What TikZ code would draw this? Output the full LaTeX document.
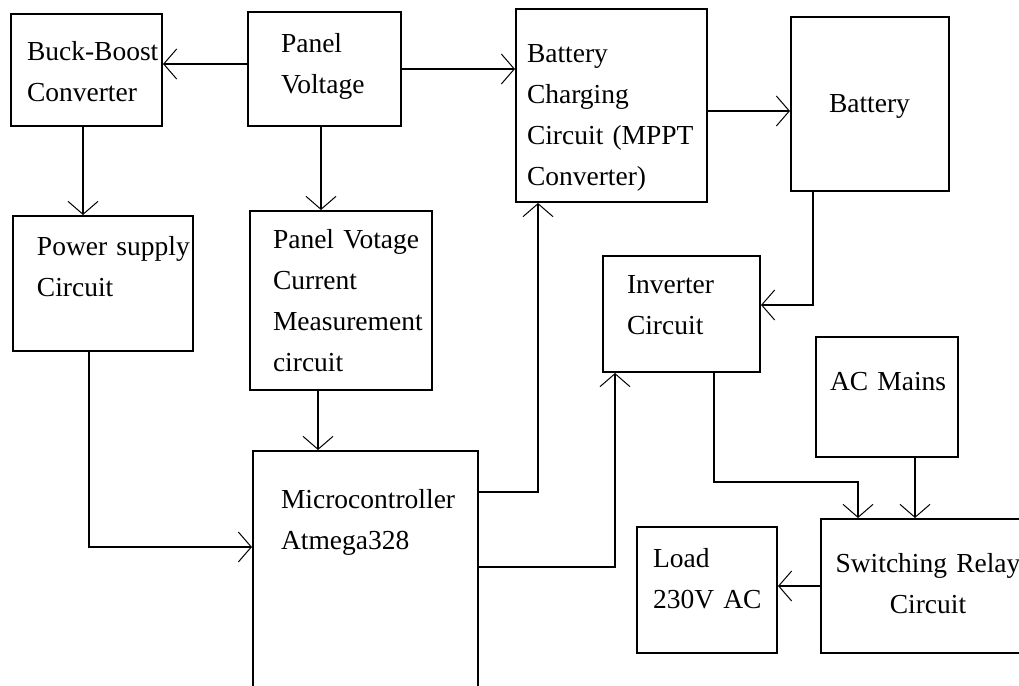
\documentclass[tikz,border=0pt]{standalone}
\usepackage{fontspec}
\setmainfont[WordSpace=0.75]{Liberation Serif}
\usetikzlibrary{arrows.meta}

\begin{document}
\begin{tikzpicture}[
    x=0.5pt, y=-0.5pt,
    >={Straight Barb[length=6.5pt,width=15pt,line width=0.5pt]},
    line width=1pt,
    blk/.style={draw, rectangle, inner sep=0pt, align=left,
        font=\fontsize{13.75}{20.5}\selectfont, text height=0pt}
]
    \path[use as bounding box, clip] (0,0) rectangle (1019,686);

    \node[blk, minimum width=75.5pt, minimum height=56pt, text width=59.5pt, text depth=10pt] (BB) at (86.5,70) {\mbox{Buck-Boost}\\Converter};
    \node[blk, minimum width=76.5pt, minimum height=57pt, text width=43.5pt, text depth=17pt] (PV) at (324.5,69) {Panel\\Voltage};
    \node[blk, minimum width=95.5pt, minimum height=96.5pt, text width=84.5pt, text depth=43.5pt] (CH) at (611.5,105.5) {Battery\\Charging\\\mbox{Circuit (MPPT}\\Converter)};
    \node[blk, minimum width=79pt, minimum height=87pt, text width=41pt, text height=8pt, text depth=0pt] (BT) at (870,104) {Battery};
    \node[blk, minimum width=90pt, minimum height=67.5pt, text width=66pt, text depth=28.5pt] (PS) at (103,283.5) {\mbox{Power supply}\\Circuit};
    \node[blk, minimum width=91pt, minimum height=89.5pt, text width=68pt, text depth=52.5pt] (MS) at (341,300.5) {\mbox{Panel Votage}\\Current\\\mbox{Measurement}\\circuit};
    \node[blk, minimum width=78.5pt, minimum height=58pt, text width=54.5pt, text depth=21pt] (INV) at (681.5,314) {Inverter\\Circuit};
    \node[blk, minimum width=112.5pt, minimum height=124.5pt, text width=84.5pt, text depth=67.5pt] (MCU) at (365.5,575.5) {\mbox{Microcontroller}\\Atmega328};
    \node[blk, minimum width=71pt, minimum height=60pt, text width=57pt, text depth=7pt] (AC) at (887,397) {\mbox{AC Mains}};
    \node[blk, minimum width=70pt, minimum height=63pt, text width=54pt, text depth=23pt] (LD) at (707,590) {Load\\\mbox{230V AC}};
    \node[blk, align=center, minimum width=107pt, minimum height=67pt, text width=95pt, text depth=14pt] (REL) at (928,586) {\mbox{Switching Relay}\\Circuit};

    \draw[->] ([yshift=2.5pt]PV.west) -- ([yshift=2.5pt]BB.east |- PV.west);
    \draw[->] (PV.east) -- (PV.east -| CH.west);
    \draw[->] ([xshift=-1.75pt]BB.south) -- ([xshift=-1.75pt]BB.south |- PS.north);
    \draw[->] ([xshift=-1.75pt]PV.south) -- ([xshift=-1.75pt]PV.south |- MS.north);
    \draw[->] ([yshift=-2.75pt]CH.east) -- ([yshift=-2.75pt]CH.east -| BT.west);
    \draw[->] ([xshift=-28.5pt]BT.south) |- ([yshift=4.5pt]INV.east);
    \draw[->] ([xshift=-11.5pt]MS.south) -- ([xshift=-11.5pt]MS.south |- MCU.north);
    \draw[->] ([xshift=-7pt]PS.south) |- ([yshift=-48.5pt]MCU.north west);
    \draw[->] ([yshift=-21pt]MCU.north east) -| ([xshift=-36.75pt]CH.south);
    \draw[->] ([yshift=-58.5pt]MCU.north east) -| ([xshift=-33.25pt]INV.south);
    \draw[->] ([xshift=16.25pt]INV.south) -- ++(0,-54.5pt) -| ([xshift=-35pt]REL.north);
    \draw[->] ([xshift=-6.5pt]REL.north |- AC.south) -- ([xshift=-6.5pt]REL.north);
    \draw[->] (REL.west) -- (REL.west -| LD.east);
\end{tikzpicture}
\end{document}
